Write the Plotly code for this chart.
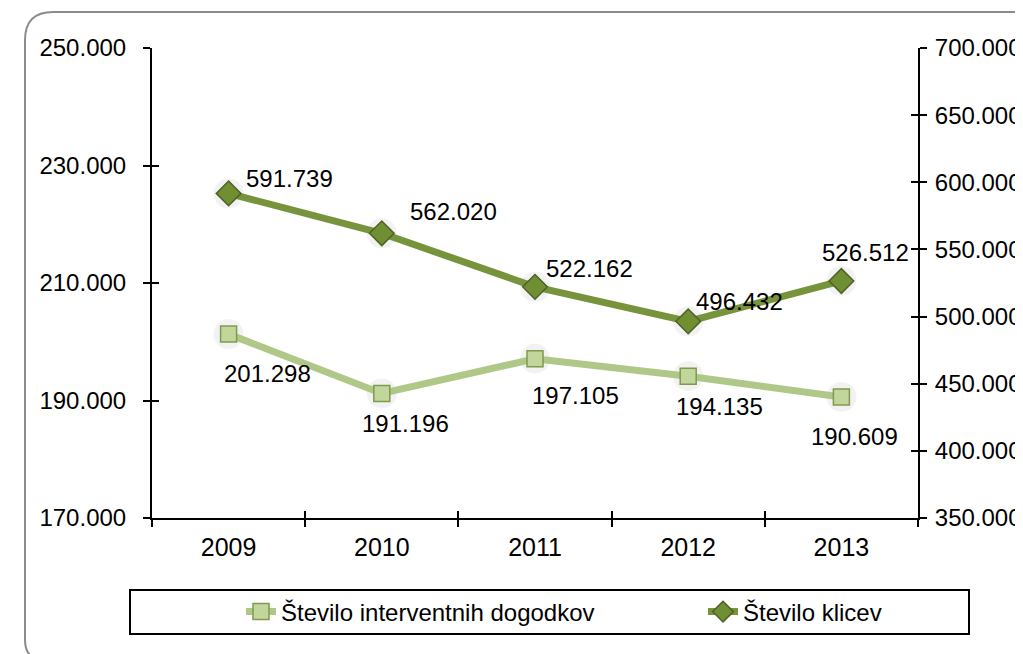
import plotly.graph_objects as go

years = ["2009", "2010", "2011", "2012", "2013"]
interventni = [201298, 191196, 197105, 194135, 190609]
klici = [591739, 562020, 522162, 496432, 526512]

name_int = "Število interventnih dogodkov"
name_kl = "Število klicev"

# label offsets in px (dx, dy) relative to markers
off_int = [(39, -39), (24, -30), (40, -37), (31, -30), (13, -40)]
off_kl = [(61, 15), (72, 22), (54, 18), (51, 20), (24, 28)]

FONT = "Liberation Sans, Arial, sans-serif"
# page body has an 8px margin, so work in figure coords = screen - 8
OFF = 8
W, H = 1023 - OFF, 654 - OFF
L, R, T, B = 152 - OFF, 918 - OFF, 48 - OFF, 518 - OFF
pw, ph = R - L, B - T


def fmt(v):
    return f"{v:,}".replace(",", ".")


def px_(x):  # screen px -> paper x
    return (x - OFF - L) / pw


def py_(y):  # screen px -> paper y
    return (B - (y - OFF)) / ph


fig = go.Figure()

# soft shadows behind markers
fig.add_trace(go.Scatter(x=years, y=interventni, mode="markers", showlegend=False, hoverinfo="skip",
                         marker=dict(symbol="circle", size=30, color="rgba(0,0,0,0.05)", line=dict(width=0))))
fig.add_trace(go.Scatter(x=years, y=klici, yaxis="y2", mode="markers", showlegend=False, hoverinfo="skip",
                         marker=dict(symbol="circle", size=30, color="rgba(0,0,0,0.05)", line=dict(width=0))))

fig.add_trace(go.Scatter(
    x=years, y=interventni, name=name_int, mode="lines+markers", legend="legend",
    line=dict(color="#AFC888", width=7),
    marker=dict(symbol="square", size=16, color="#C2D69B", line=dict(color="#7E9A4E", width=1.5)),
))
fig.add_trace(go.Scatter(
    x=years, y=klici, name=name_kl, mode="lines+markers", yaxis="y2", legend="legend2",
    line=dict(color="#77933C", width=7),
    marker=dict(symbol="diamond", size=19, color="#6F8F32", line=dict(color="#4F6228", width=1.5)),
))

# invisible carriers for the inner tick axes
fig.add_trace(go.Scatter(x=years, y=[None] * 5, xaxis="x2", yaxis="y3", showlegend=False,
                         hoverinfo="skip", mode="markers"))
fig.add_trace(go.Scatter(x=years, y=[None] * 5, xaxis="x", yaxis="y4", showlegend=False,
                         hoverinfo="skip", mode="markers"))

for i in range(len(years)):
    dx, dy = off_int[i]
    fig.add_annotation(x=i, y=interventni[i], xref="x", yref="y", text=fmt(interventni[i]),
                       showarrow=False, xshift=dx, yshift=dy,
                       font=dict(family=FONT, size=24, color="#000"))
    dx, dy = off_kl[i]
    fig.add_annotation(x=i, y=klici[i], xref="x", yref="y2", text=fmt(klici[i]),
                       showarrow=False, xshift=dx, yshift=dy,
                       font=dict(family=FONT, size=24, color="#000"))

tickfont = dict(family=FONT, size=24, color="#000")
lin = dict(showline=True, linecolor="#000", linewidth=2, showgrid=False, zeroline=False,
           tickcolor="#000", tickwidth=1.5, ticklen=7, automargin=False)
inner = dict(ticks="inside", showticklabels=False, showline=False, showgrid=False, zeroline=False,
             tickcolor="#000", tickwidth=1.5, ticklen=7, automargin=False)

left_vals = [170000, 190000, 210000, 230000, 250000]
right_vals = [350000, 400000, 450000, 500000, 550000, 600000, 650000, 700000]

fig.update_layout(
    width=W, height=H,
    margin=dict(l=L, r=W - R, t=T, b=H - B),
    paper_bgcolor="white", plot_bgcolor="white",
    font=dict(family=FONT, size=24, color="#000"),
    xaxis=dict(type="category", categoryorder="array", categoryarray=years, range=[-0.5, 4.5],
               tickson="boundaries", ticks="outside", tickfont=dict(family=FONT, size=25, color="#000"),
               tickangle=0, ticklabelstandoff=6, **lin),
    xaxis2=dict(type="category", categoryorder="array", categoryarray=years, range=[-0.5, 4.5],
                overlaying="x", anchor="y3", side="bottom", tickson="boundaries", **inner),
    yaxis=dict(range=[170000, 250000], tickvals=left_vals, ticktext=[fmt(v) for v in left_vals],
               ticks="outside", tickfont=tickfont, ticklabelstandoff=12, **lin),
    yaxis3=dict(overlaying="y", range=[170000, 250000], tickvals=left_vals, anchor="x2",
                side="left", **inner),
    yaxis2=dict(range=[350000, 700000], tickvals=right_vals, ticktext=[fmt(v) for v in right_vals],
                overlaying="y", side="right", ticks="outside", tickfont=tickfont,
                ticklabelstandoff=3, **lin),
    yaxis4=dict(overlaying="y", range=[350000, 700000], tickvals=right_vals, anchor="x",
                side="right", **inner),
    legend=dict(orientation="h", x=px_(241), xanchor="left", y=py_(612), yanchor="middle",
                bgcolor="rgba(0,0,0,0)", borderwidth=0,
                font=dict(family=FONT, size=24, color="#000")),
    legend2=dict(orientation="h", x=px_(703), xanchor="left", y=py_(612), yanchor="middle",
                 bgcolor="rgba(0,0,0,0)", borderwidth=0,
                 font=dict(family=FONT, size=24, color="#000")),
)

# legend border
fig.add_shape(type="rect", xref="paper", yref="paper",
              x0=px_(130), x1=px_(969), y0=py_(634), y1=py_(590),
              line=dict(color="#000", width=2), fillcolor="rgba(0,0,0,0)", layer="below")

# rounded outer frame
r = 28
path = (f"M {px_(1040)},{py_(12)} L {px_(25 + r)},{py_(12)} "
        f"Q {px_(25)},{py_(12)} {px_(25)},{py_(12 + r)} "
        f"L {px_(25)},{py_(640)} Q {px_(25)},{py_(656)} {px_(38)},{py_(660)}")
fig.add_shape(type="path", xref="paper", yref="paper", path=path,
              line=dict(color="#8C8C8C", width=2), layer="below")

fig.write_html("out.html")
